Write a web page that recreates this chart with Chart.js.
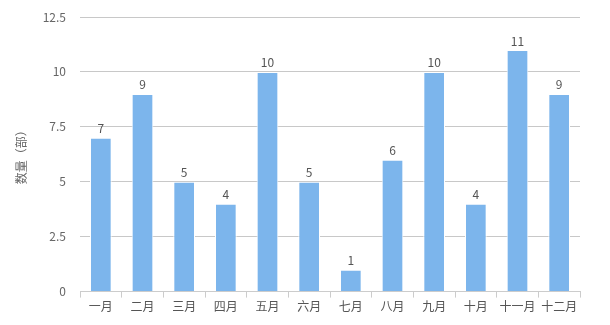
<!DOCTYPE html>
<html lang="zh-cn">
<head>
<meta charset="UTF-8">
<title>月度数量</title>
<script src="https://cdn.jsdelivr.net/npm/chart.js"></script>
<style>
    html, body { margin: 0; padding: 0; background: #fff; }
    .grafico { width: 610px; height: 325px; }
</style>
</head>
<body>
<div class="grafico">
    <canvas id="myChartCanvas" width="610" height="325"></canvas>
</div>
<script>
    // dados do gráfico
    var meses = ['一月', '二月', '三月', '四月', '五月', '六月', '七月', '八月', '九月', '十月', '十一月', '十二月'];
    var quantidades = [7, 9, 5, 4, 10, 5, 1, 6, 10, 4, 11, 9];
    var ticksY = [0, 2.5, 5, 7.5, 10, 12.5];

    var fonte = '"Noto Sans CJK SC", "Noto Sans", sans-serif';

    // rótulos acima das barras
    const rotulos = {
        id: 'rotulos',
        afterDatasetsDraw(chart) {
            const ctx = chart.ctx;
            const meta = chart.getDatasetMeta(0);
            ctx.save();
            ctx.font = '12px ' + fonte;
            ctx.fillStyle = '#555';
            ctx.textAlign = 'center';
            ctx.textBaseline = 'bottom';
            meta.data.forEach(function (bar, i) {
                ctx.fillText(quantidades[i], bar.x, bar.y - 3);
            });
            ctx.restore();
        }
    };

    const config = {
        type: 'bar',
        data: {
            labels: meses,
            datasets: [{
                data: quantidades,
                backgroundColor: '#7cb5ec',
                borderColor: '#ffffff',
                borderWidth: { left: 1, right: 1, top: 1, bottom: 0 },
                categoryPercentage: 1,
                barPercentage: 0.52
            }]
        },
        options: {
            responsive: false,
            animation: false,
            layout: { padding: { top: 0, right: 30, bottom: 9, left: 14 } },
            plugins: {
                legend: { display: false },
                tooltip: { enabled: false }
            },
            scales: {
                x: {
                    grid: {
                        offset: true,
                        drawOnChartArea: false,
                        color: '#cccccc',
                        tickLength: 6
                    },
                    border: { color: '#cccccc' },
                    ticks: {
                        color: '#555',
                        font: { family: fonte, size: 12 },
                        padding: 2,
                        maxRotation: 0
                    }
                },
                y: {
                    min: 0,
                    max: 12.5,
                    afterFit: function (scale) {
                        scale.width = 66;
                        scale.paddingTop = 17;
                    },
                    afterBuildTicks: function (scale) {
                        scale.ticks = ticksY.map(function (v) { return { value: v }; });
                    },
                    grid: { color: '#c8c8c8', drawTicks: false },
                    border: { display: false },
                    ticks: {
                        color: '#666',
                        font: { family: fonte, size: 12 },
                        padding: 14
                    },
                    title: {
                        display: true,
                        text: '数量（部）',
                        color: '#666',
                        font: { family: fonte, size: 12 },
                        padding: { top: 0, bottom: 0 }
                    }
                }
            }
        },
        plugins: [rotulos]
    };

    new Chart(document.getElementById('myChartCanvas'), config);
</script>
</body>
</html>
